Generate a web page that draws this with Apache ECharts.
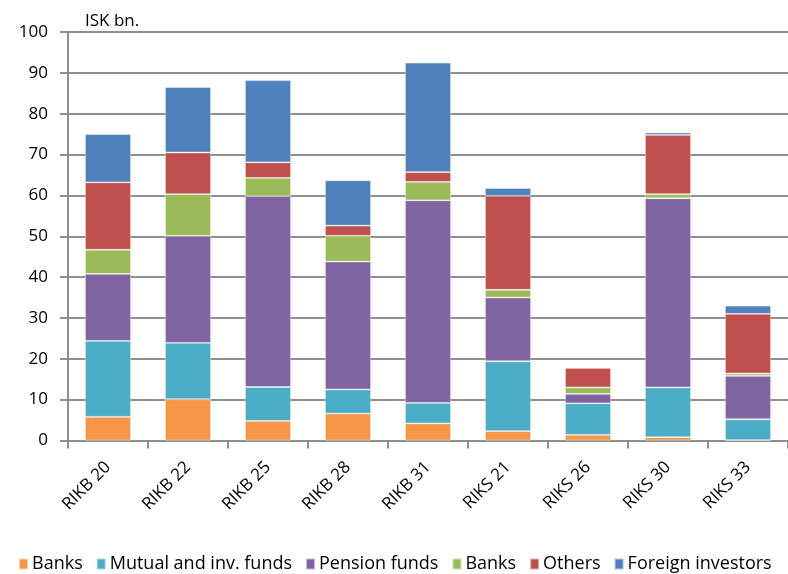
<!DOCTYPE html>
<html>
<head>
<meta charset="utf-8">
<style>
  html, body { margin: 0; padding: 0; background: #fff; }
  #chart { width: 788px; height: 574px; }
</style>
<script src="https://cdn.jsdelivr.net/npm/echarts@6/dist/echarts.min.js"></script>
</head>
<body>
<div id="chart"></div>
<script>
// Holdings of government bonds by owner group, ISK bn.
const categories = ['RIKB 20', 'RIKB 22', 'RIKB 25', 'RIKB 28', 'RIKB 31', 'RIKS 21', 'RIKS 26', 'RIKS 30', 'RIKS 33'];

const banks        = [5.8, 10.1, 4.8, 6.6, 4.2, 2.3, 1.4, 0.8, 0.1];
const mutualFunds  = [18.6, 13.8, 8.3, 5.9, 5.0, 17.1, 7.7, 12.2, 5.1];
const pensionFunds = [16.4, 26.2, 46.7, 31.3, 49.6, 15.6, 2.3, 46.3, 10.6];
const banks2       = [5.9, 10.2, 4.5, 6.3, 4.5, 1.9, 1.6, 1.0, 0.6];
const others       = [16.5, 10.2, 3.8, 2.5, 2.4, 23.0, 4.8, 14.5, 14.6];
const foreign      = [11.8, 16.0, 20.1, 11.1, 26.8, 1.9, 0.0, 0.6, 2.0];

const yTicks = { min: 0, max: 100, interval: 10 };

const FONT = '"Open Sans", "Liberation Sans", Arial, sans-serif';
const GRID_COLOR = '#8f8f8f';

function stackSeries(name, data, color) {
  return {
    name: name,
    type: 'bar',
    stack: 'total',
    data: data,
    barWidth: 46,
    itemStyle: {
      color: color,
      borderColor: 'rgba(255,255,255,0.55)',
      borderWidth: 0.8
    },
    emphasis: { disabled: true }
  };
}

const chart = echarts.init(document.getElementById('chart'), null, { renderer: 'canvas' });

chart.setOption({
  animation: false,
  backgroundColor: '#ffffff',
  title: {
    text: 'ISK bn.',
    left: 80,
    top: 8,
    textStyle: { fontFamily: FONT, fontSize: 17, fontWeight: 'normal', color: '#000' }
  },
  legend: {
    bottom: -4,
    left: 13,
    itemWidth: 9,
    itemHeight: 11,
    itemGap: 13,
    icon: 'rect',
    formatter: function (n) { return n.trim(); },
    textStyle: { fontFamily: FONT, fontSize: 18, color: '#000', padding: [0, 0, 0, -1] },
    data: ['Banks', 'Mutual and inv. funds', 'Pension funds', 'Banks ', 'Others', 'Foreign investors']
  },
  grid: {
    left: 68,
    top: 32,
    width: 728,
    bottom: 133.5
  },
  xAxis: {
    type: 'category',
    data: categories,
    axisLine: { lineStyle: { color: GRID_COLOR, width: 2 } },
    axisTick: { show: true, length: 8, lineStyle: { color: GRID_COLOR, width: 2 } },
    axisLabel: {
      rotate: 45,
      margin: 24,
      interval: 0,
      fontFamily: FONT,
      fontSize: 17,
      color: '#000'
    }
  },
  yAxis: {
    type: 'value',
    min: yTicks.min,
    max: yTicks.max,
    interval: yTicks.interval,
    axisLine: { show: true, lineStyle: { color: GRID_COLOR, width: 2 } },
    axisTick: { show: true, length: 8, lineStyle: { color: GRID_COLOR, width: 2 } },
    splitLine: { show: true, lineStyle: { color: GRID_COLOR, width: 2 } },
    axisLabel: {
      margin: 20,
      fontFamily: FONT,
      fontSize: 17,
      color: '#000'
    }
  },
  series: [
    stackSeries('Banks', banks, '#F79646'),
    stackSeries('Mutual and inv. funds', mutualFunds, '#4BACC6'),
    stackSeries('Pension funds', pensionFunds, '#8064A2'),
    stackSeries('Banks ', banks2, '#9BBB59'),
    stackSeries('Others', others, '#C0504D'),
    stackSeries('Foreign investors', foreign, '#4F81BD')
  ]
});
</script>
</body>
</html>
